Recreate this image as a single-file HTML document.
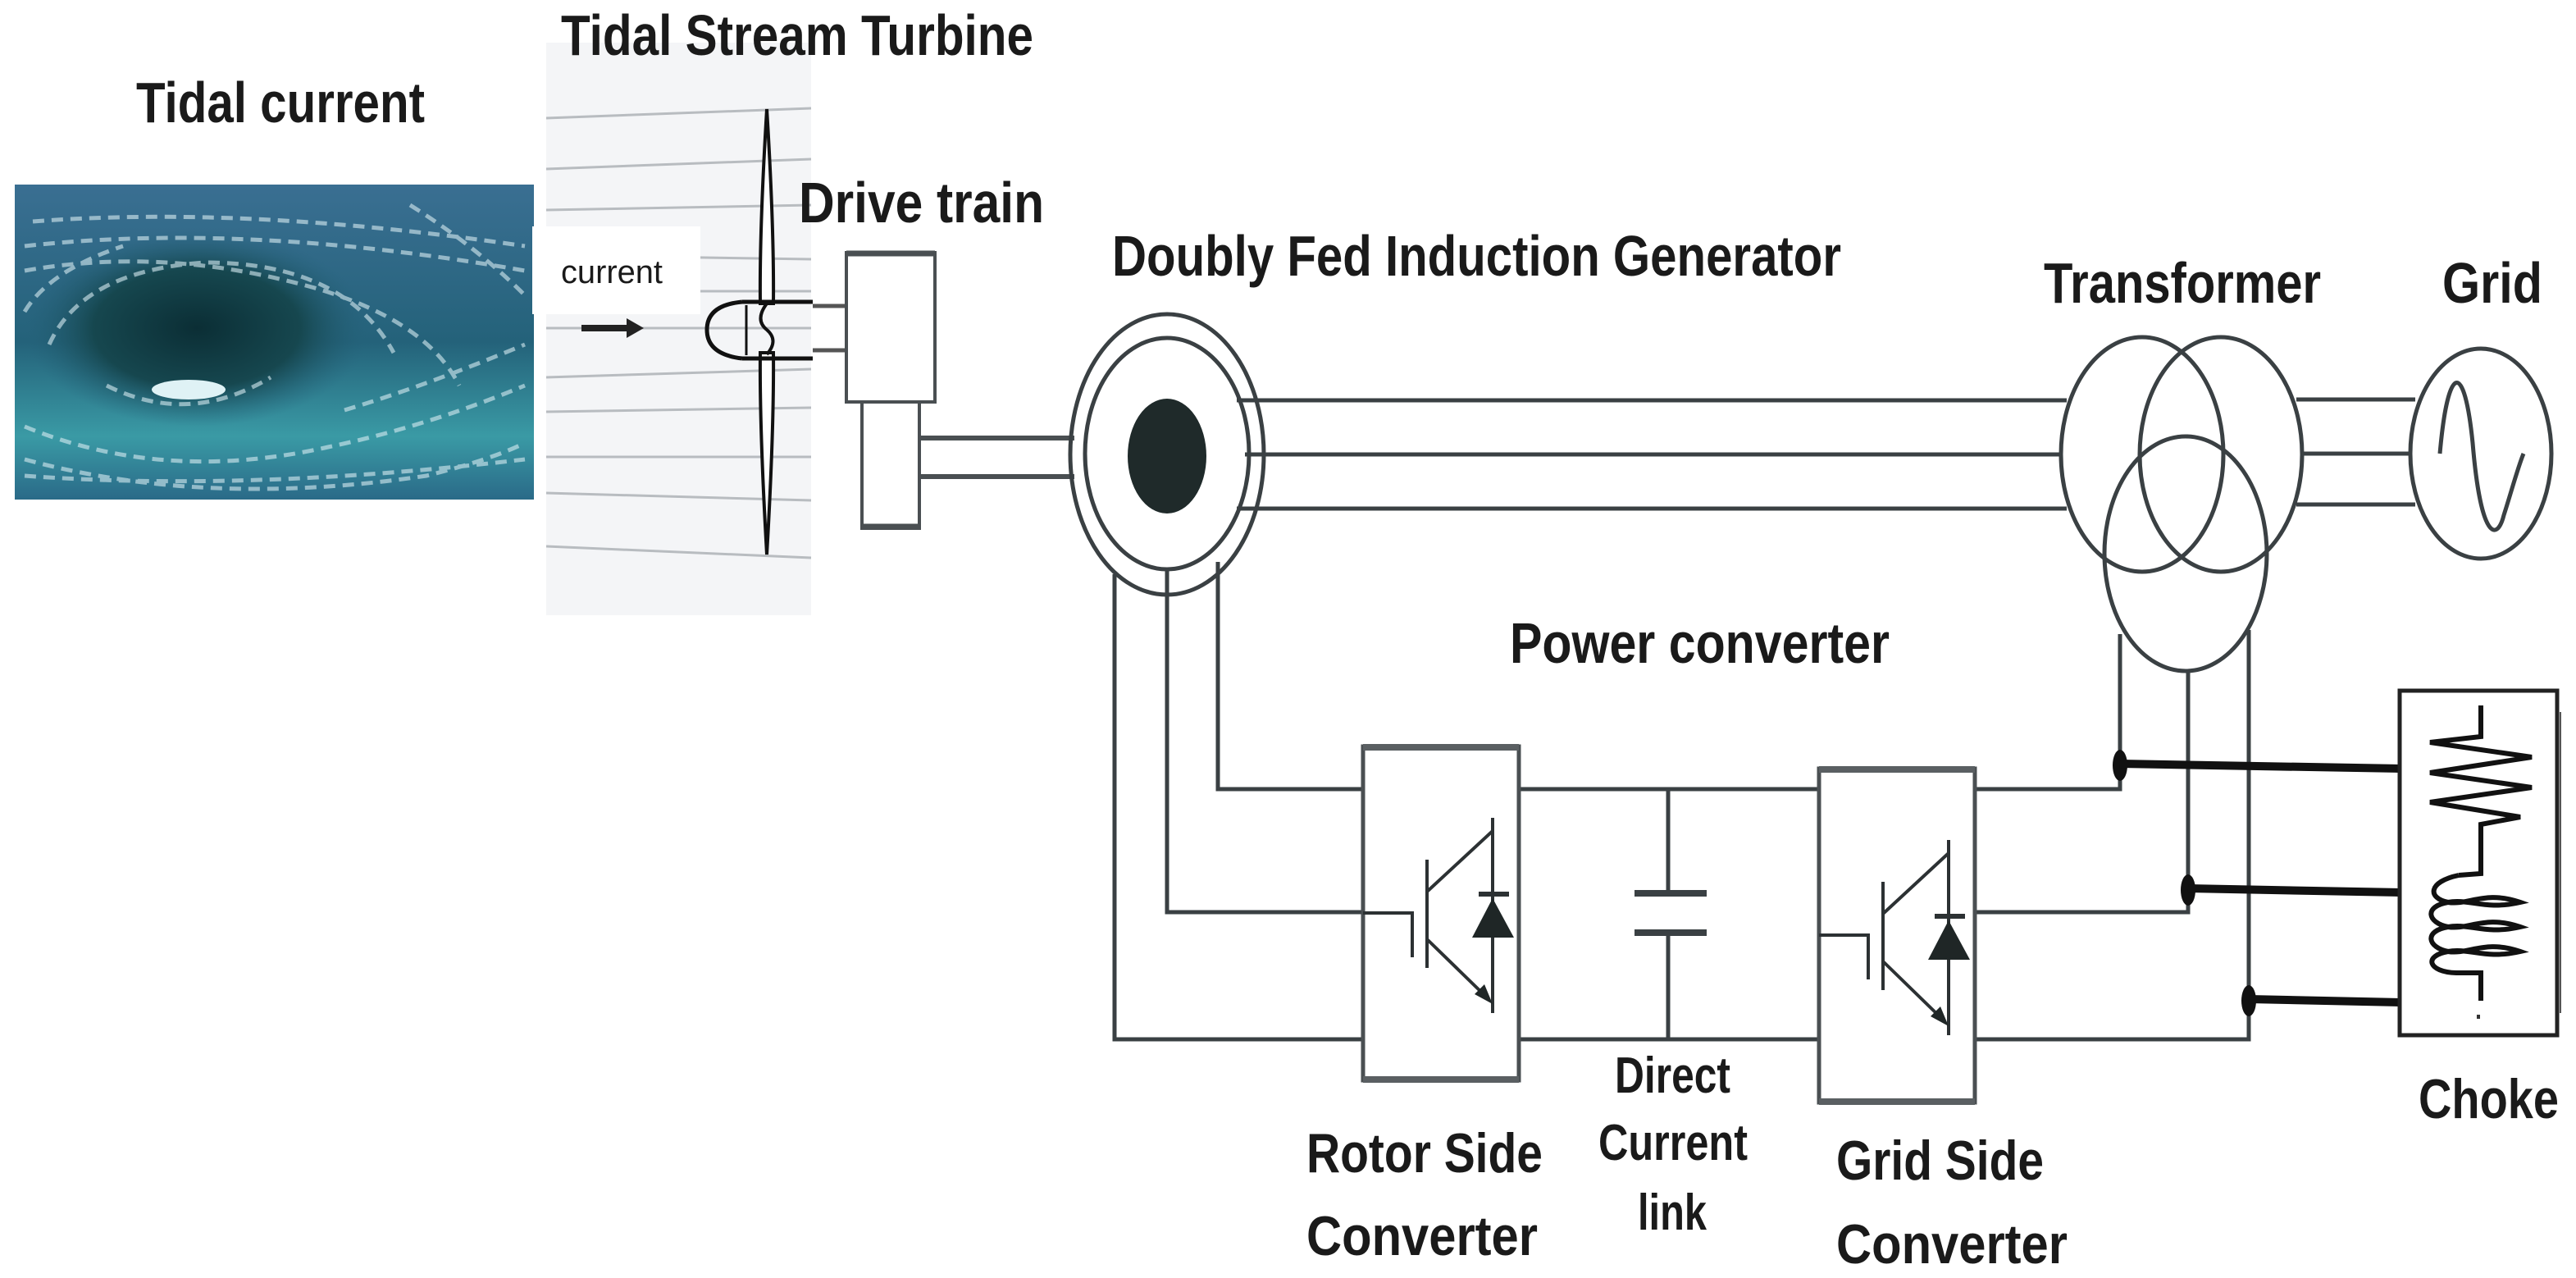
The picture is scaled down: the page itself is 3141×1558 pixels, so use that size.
<!DOCTYPE html>
<html><head><meta charset="utf-8"><style>
html,body{margin:0;padding:0;background:#fff;}
svg{display:block;}
text{font-family:"Liberation Sans",sans-serif;font-weight:bold;fill:#1a1a1a;}
</style></head><body>
<svg width="3141" height="1558" viewBox="0 0 3141 1558" xmlns="http://www.w3.org/2000/svg">
<defs>
<linearGradient id="wg" x1="0" y1="0" x2="0" y2="1">
<stop offset="0" stop-color="#3a6f92"/><stop offset="0.5" stop-color="#24627a"/><stop offset="0.8" stop-color="#3a9aa5"/><stop offset="1" stop-color="#2a6a88"/>
</linearGradient>
<radialGradient id="wh" cx="0.5" cy="0.5" r="0.5">
<stop offset="0" stop-color="#0b2e35"/><stop offset="0.6" stop-color="#16474f"/><stop offset="1" stop-color="#24627a" stop-opacity="0"/>
</radialGradient>
</defs>

<!-- water image -->
<rect x="18" y="225" width="633" height="384" fill="url(#wg)"/>
<ellipse cx="240" cy="400" rx="210" ry="120" fill="url(#wh)"/>
<g fill="none" stroke="#d8ecf2" stroke-width="5" opacity="0.6" stroke-dasharray="14 9">
<path d="M30 520 Q200 590 400 545 Q520 520 640 470"/>
<path d="M30 330 Q200 300 380 350 Q520 390 560 470"/>
<path d="M40 270 Q300 250 640 300"/>
<path d="M30 580 Q300 600 640 560"/>
<path d="M130 470 Q230 520 330 460"/>
<path d="M30 300 Q300 270 640 330"/>
<path d="M30 560 Q250 620 520 580 Q600 560 640 540"/>
<path d="M60 420 Q100 330 250 320 Q420 320 480 430"/>
<path d="M500 250 Q580 300 640 360"/>
<path d="M30 380 Q60 330 150 300"/>
<path d="M420 500 Q520 470 640 420"/>
</g>
<ellipse cx="230" cy="475" rx="45" ry="12" fill="#dff2f5"/>

<!-- turbine panel -->
<rect x="666" y="52" width="323" height="698" fill="#f4f5f7"/>
<g stroke="#b8bcc0" stroke-width="3">
<line x1="666" y1="144" x2="989" y2="132"/><line x1="666" y1="206" x2="989" y2="194"/>
<line x1="666" y1="256" x2="989" y2="250"/><line x1="666" y1="311" x2="989" y2="316"/>
<line x1="666" y1="355" x2="989" y2="355"/><line x1="666" y1="400" x2="989" y2="400"/>
<line x1="666" y1="460" x2="989" y2="450"/><line x1="666" y1="502" x2="989" y2="497"/>
<line x1="666" y1="557" x2="989" y2="557"/><line x1="666" y1="601" x2="989" y2="610"/>
<line x1="666" y1="666" x2="989" y2="680"/>
</g>
<rect x="649" y="276" width="205" height="107" fill="#fff"/>
<text x="684" y="345" font-size="40" style="font-weight:normal" textLength="124" lengthAdjust="spacingAndGlyphs">current</text>
<line x1="709" y1="400" x2="770" y2="400" stroke="#222" stroke-width="8"/>
<polygon points="764,388 785,400 764,412" fill="#222"/>
<!-- blade -->
<path d="M935 133 Q944 280 943 370 L927 370 Q926 280 935 133 Z" fill="#fff" stroke="#111" stroke-width="4"/>
<path d="M935 676 Q944 520 943 430 L927 430 Q926 520 935 676 Z" fill="#fff" stroke="#111" stroke-width="4"/>
<path d="M905 368 L991 368 M905 437 L991 437 M905 368 Q862 372 862 402 Q862 432 905 437" fill="none" stroke="#111" stroke-width="5"/>
<line x1="910" y1="372" x2="910" y2="433" stroke="#111" stroke-width="3"/>
<path d="M935 370 Q920 390 935 402 Q950 415 935 432" fill="none" stroke="#111" stroke-width="4"/>
<line x1="991" y1="373" x2="1032" y2="373" stroke="#555" stroke-width="5"/>
<line x1="991" y1="427" x2="1032" y2="427" stroke="#555" stroke-width="5"/>

<!-- drive train -->
<rect x="1032" y="308" width="108" height="182" fill="#fff" stroke="#4a4f52" stroke-width="4"/>
<line x1="1032" y1="309" x2="1140" y2="309" stroke="#4a4f52" stroke-width="7"/>
<rect x="1051" y="490" width="70" height="154" fill="#fff" stroke="#4a4f52" stroke-width="4"/>
<line x1="1051" y1="642" x2="1121" y2="642" stroke="#4a4f52" stroke-width="7"/>
<line x1="1121" y1="534" x2="1310" y2="534" stroke="#4a4f52" stroke-width="6"/>
<line x1="1121" y1="581" x2="1310" y2="581" stroke="#4a4f52" stroke-width="6"/>

<g stroke="#3a4043" stroke-width="5" fill="none">
<line x1="1508" y1="488" x2="2520" y2="488"/>
<line x1="1518" y1="554" x2="2514" y2="554"/>
<line x1="1508" y1="620" x2="2520" y2="620"/>
<line x1="2800" y1="487" x2="2945" y2="487"/>
<line x1="2808" y1="553" x2="2939" y2="553"/>
<line x1="2800" y1="615" x2="2945" y2="615"/>
<ellipse cx="1423" cy="554" rx="118" ry="171"/>
<ellipse cx="1423" cy="553" rx="100" ry="141"/>
<ellipse cx="2612" cy="554" rx="99" ry="143"/>
<ellipse cx="2708" cy="554" rx="99" ry="143"/>
<ellipse cx="2665" cy="675" rx="99" ry="143"/>
<ellipse cx="3025" cy="553" rx="86" ry="128"/>
<path d="M2975 553 C2985 440 3005 440 3015 540 C3025 660 3045 660 3053 628 C3062 600 3070 570 3077 553"/>
<polyline points="1359,700 1359,1267 1662,1267"/>
<polyline points="1423,695 1423,1112 1662,1112"/>
<polyline points="1485,685 1485,962 1662,962"/>
<line x1="1852" y1="962" x2="2218" y2="962"/>
<line x1="1852" y1="1267" x2="2218" y2="1267"/>
<polyline points="2409,962 2585,962 2585,773"/>
<polyline points="2409,1112 2668,1112 2668,818"/>
<polyline points="2409,1267 2742,1267 2742,768"/>
<line x1="2034" y1="962" x2="2034" y2="1089"/>
<line x1="2034" y1="1137" x2="2034" y2="1267"/>
<line x1="1993" y1="1089" x2="2081" y2="1089" stroke-width="8"/>
<line x1="1993" y1="1137" x2="2081" y2="1137" stroke-width="8"/>
</g>
<ellipse cx="1423" cy="556" rx="48" ry="70" fill="#1f2a2a"/>

<g id="conv">
<rect x="1662" y="910" width="190" height="407" fill="#fff" stroke="#4a4f52" stroke-width="5"/>
<line x1="1662" y1="911" x2="1852" y2="911" stroke="#5a5f62" stroke-width="8"/>
<line x1="1662" y1="1316" x2="1852" y2="1316" stroke="#5a5f62" stroke-width="8"/>
<g stroke="#2c3133" stroke-width="4" fill="none">
<polyline points="1662,1113 1722,1113 1722,1167"/>
<line x1="1740" y1="1048" x2="1740" y2="1180"/>
<line x1="1740" y1="1087" x2="1820" y2="1013"/>
<line x1="1740" y1="1145" x2="1815" y2="1218"/>
<line x1="1820" y1="997" x2="1820" y2="1235"/>
<line x1="1803" y1="1090" x2="1840" y2="1090" stroke-width="6"/>
</g>
<polygon points="1820,1095 1795,1143 1846,1143" fill="#1f2626"/>
<polygon points="1820,1224 1798,1212 1810,1200" fill="#1f2626"/>
</g>
<use href="#conv" transform="translate(556,27)"/>

<g fill="#111">
<ellipse cx="2585" cy="933" rx="9" ry="19"/>
<ellipse cx="2668" cy="1085" rx="9" ry="19"/>
<ellipse cx="2742" cy="1220" rx="9" ry="19"/>
</g>
<g stroke="#111" stroke-width="10">
<line x1="2585" y1="931" x2="2926" y2="937"/>
<line x1="2668" y1="1083" x2="2926" y2="1088"/>
<line x1="2742" y1="1218" x2="2926" y2="1222"/>
</g>
<rect x="2926" y="842" width="192" height="420" fill="#fff" stroke="#222" stroke-width="5"/>
<line x1="3122" y1="868" x2="3122" y2="1235" stroke="#555" stroke-width="2"/>
<g stroke="#111" stroke-width="6" fill="none">
<polyline points="3025,860 3025,898 2963,905 3087,923 2963,942 3087,960 2963,978 3073,996 3025,1005 3025,1065 2998,1067"/>
<path d="M2998 1067 C2960 1075 2960 1095 2985 1100 C3010 1104 3030 1085 3073 1100 C3030 1110 3010 1095 2985 1100 C2955 1105 2960 1125 2985 1130 C3010 1134 3030 1115 3073 1130 C3030 1140 3010 1125 2985 1130 C2955 1135 2960 1155 2985 1160 C3010 1164 3030 1145 3073 1160 C3030 1170 3010 1155 2985 1160 C2955 1165 2960 1185 2995 1186 L3025 1186 L3025 1220"/>
</g>
<rect x="3020" y="1237" width="4" height="5" fill="#333"/>

<text x="166" y="149" font-size="70" textLength="352" lengthAdjust="spacingAndGlyphs">Tidal current</text>
<text x="684" y="67" font-size="70" textLength="576" lengthAdjust="spacingAndGlyphs">Tidal Stream Turbine</text>
<text x="974" y="271" font-size="70" textLength="299" lengthAdjust="spacingAndGlyphs">Drive train</text>
<text x="1356" y="336" font-size="70" textLength="889" lengthAdjust="spacingAndGlyphs">Doubly Fed Induction Generator</text>
<text x="2492" y="369" font-size="70" textLength="338" lengthAdjust="spacingAndGlyphs">Transformer</text>
<text x="2978" y="369" font-size="70" textLength="122" lengthAdjust="spacingAndGlyphs">Grid</text>
<text x="1841" y="808" font-size="70" textLength="463" lengthAdjust="spacingAndGlyphs">Power converter</text>
<text x="1969" y="1332" font-size="62" textLength="141" lengthAdjust="spacingAndGlyphs">Direct</text>
<text x="1949" y="1414" font-size="62" textLength="182" lengthAdjust="spacingAndGlyphs">Current</text>
<text x="1997" y="1499" font-size="62" textLength="84" lengthAdjust="spacingAndGlyphs">link</text>
<text x="1593" y="1429" font-size="68" textLength="288" lengthAdjust="spacingAndGlyphs">Rotor Side</text>
<text x="1593" y="1530" font-size="68" textLength="282" lengthAdjust="spacingAndGlyphs">Converter</text>
<text x="2239" y="1438" font-size="68" textLength="253" lengthAdjust="spacingAndGlyphs">Grid Side</text>
<text x="2239" y="1540" font-size="68" textLength="282" lengthAdjust="spacingAndGlyphs">Converter</text>
<text x="2949" y="1363" font-size="68" textLength="171" lengthAdjust="spacingAndGlyphs">Choke</text>
</svg>
</body></html>
